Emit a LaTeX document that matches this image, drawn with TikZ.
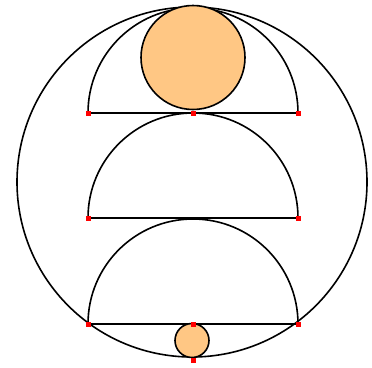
\documentclass[tikz,border=0pt]{standalone}
\definecolor{ballfill}{RGB}{255,199,132}
\usepackage{tikz}
\usetikzlibrary{calc}

\begin{document}
\begin{tikzpicture}[x=1pt, y=-1pt, line width=1.6pt,
    pt/.style={rectangle, fill=red, minimum size=5pt, inner sep=0pt},
    ball/.style={circle, draw, fill=ballfill, line width=1.6pt, inner sep=0pt}]
    \useasboundingbox (0,0) rectangle (372,367);

    % Outer circle
    \draw (192,182) circle[radius=175];

    % Diameters of the three half discs
    \coordinate (a1) at (88,113);  \coordinate (m1) at (193,113); \coordinate (b1) at (298,113);
    \coordinate (a2) at (88,218);  \coordinate (m2) at (193,218); \coordinate (b2) at (298,218);
    \coordinate (a3) at (88,324);  \coordinate (m3) at (193,324); \coordinate (b3) at (298,324);
    \coordinate (bot) at (193,360);

    % Half discs (arc over each diameter)
    \foreach \i in {1,2,3}{
      \draw (a\i) -- (b\i);
      \draw (b\i) arc[start angle=0, end angle=-180, radius=105];
    }

    % Inscribed balls
    \node[ball, minimum size=104pt] (big) at (193,57.5) {};
    \node[ball, minimum size=34pt]  (small) at (192,340.5) {};

    % Marked points
    \foreach \p in {a1,m1,b1,a2,b2,a3,m3,b3,bot}{
      \node[pt] at (\p) {};
    }
\end{tikzpicture}
\end{document}
